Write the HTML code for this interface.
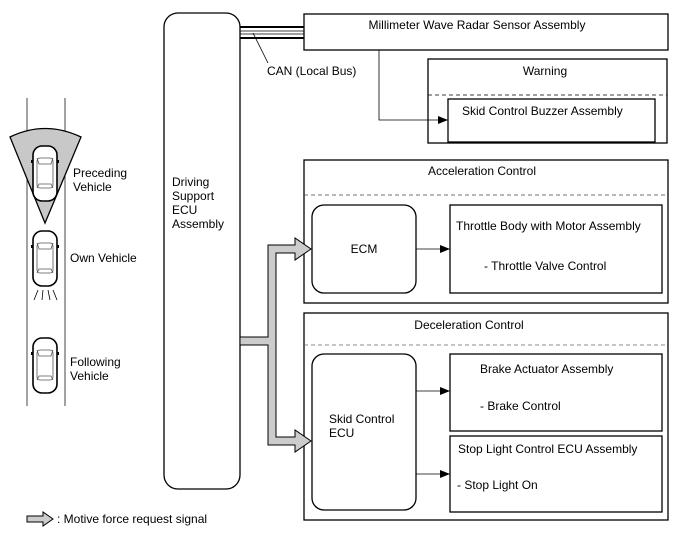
<!DOCTYPE html>
<html><head><meta charset="utf-8"><style>
html,body{margin:0;padding:0;background:#fff;}
svg{display:block;font-family:"Liberation Sans",Arial,sans-serif;font-size:12px;}
</style></head><body>
<svg width="688" height="560" viewBox="0 0 688 560" xmlns="http://www.w3.org/2000/svg">
<defs>
<marker id="ah" markerWidth="10" markerHeight="8" refX="10" refY="4" orient="auto" markerUnits="userSpaceOnUse"><path d="M0,0 L10,4 L0,8 z" fill="#000"/></marker>
<g id="car">
<rect x="-12" y="0" width="24" height="55" rx="9" fill="#fff" stroke="#000" stroke-width="1.6"/>
<rect x="-8" y="12" width="16" height="30" rx="3" fill="#fff" stroke="#555" stroke-width="0.8"/>
<path d="M-8,12 L-6,18 L6,18 L8,12 M-8,42 L-6,38 L6,38 L8,42" fill="none" stroke="#555" stroke-width="0.8"/>
<rect x="-14" y="14" width="2" height="3" fill="#000"/><rect x="12" y="14" width="2" height="3" fill="#000"/>
</g>
</defs>
<line x1="27" y1="98" x2="27" y2="406" stroke="#444" stroke-width="1"/>
<line x1="65" y1="98" x2="65" y2="406" stroke="#444" stroke-width="1"/>
<path d="M45,223 L10,137 Q45,120 81,137 Z" fill="#c8c8c8" stroke="#000" stroke-width="1.3"/>
<use href="#car" x="45" y="146"/>
<use href="#car" x="45" y="231"/>
<path d="M38,290 L34,300 M43,290 L42,300 M48,290 L50,300 M53,290 L57,300" stroke="#000" stroke-width="0.8"/>
<use href="#car" x="45" y="338"/>
<text x="73" y="177">Preceding</text><text x="73" y="191">Vehicle</text>
<text x="70" y="262">Own Vehicle</text>
<text x="70" y="366">Following</text><text x="70" y="380">Vehicle</text>
<rect x="164" y="13" width="76" height="476" rx="14" fill="#fff" stroke="#000" stroke-width="1.3"/>
<text x="172" y="186">Driving</text><text x="172" y="200">Support</text><text x="172" y="214">ECU</text><text x="172" y="228">Assembly</text>
<line x1="240" y1="27" x2="304" y2="27" stroke="#000" stroke-width="2"/>
<line x1="240" y1="31" x2="304" y2="31" stroke="#000" stroke-width="0.8"/>
<line x1="240" y1="34" x2="304" y2="34" stroke="#000" stroke-width="0.8"/>
<line x1="240" y1="38" x2="304" y2="38" stroke="#000" stroke-width="2"/>
<line x1="253" y1="33" x2="268" y2="63" stroke="#000" stroke-width="0.8"/>
<text x="267" y="75">CAN (Local Bus)</text>
<rect x="304" y="14" width="364" height="36" fill="#fff" stroke="#000" stroke-width="1.3"/>
<text x="477" y="29" text-anchor="middle">Millimeter Wave Radar Sensor Assembly</text>
<rect x="428" y="59" width="239" height="84" fill="#fff" stroke="#000" stroke-width="1.3"/>
<text x="545" y="75" text-anchor="middle">Warning</text>
<line x1="428" y1="95" x2="667" y2="95" stroke="#000" stroke-width="0.8" stroke-dasharray="4,3"/>
<rect x="448" y="99" width="207" height="43" fill="#fff" stroke="#000" stroke-width="1.3"/>
<text x="462" y="115">Skid Control Buzzer Assembly</text>
<polyline points="379,50 379,120 448,120" fill="none" stroke="#000" stroke-width="0.8" marker-end="url(#ah)"/>
<rect x="304" y="160" width="364" height="143" fill="#fff" stroke="#000" stroke-width="1.3"/>
<text x="482" y="175" text-anchor="middle">Acceleration Control</text>
<line x1="304" y1="195" x2="668" y2="195" stroke="#444" stroke-width="0.8" stroke-dasharray="4,3"/>
<rect x="312" y="205" width="104" height="88" rx="12" fill="#fff" stroke="#000" stroke-width="1.3"/>
<text x="364" y="253" text-anchor="middle">ECM</text>
<rect x="450" y="205" width="212" height="88" fill="#fff" stroke="#000" stroke-width="1.3"/>
<text x="456" y="230">Throttle Body with Motor Assembly</text>
<text x="484" y="270">- Throttle Valve Control</text>
<line x1="416" y1="249" x2="450" y2="249" stroke="#000" stroke-width="0.8" marker-end="url(#ah)"/>
<rect x="304" y="313" width="364" height="207" fill="#fff" stroke="#000" stroke-width="1.3"/>
<text x="469" y="329" text-anchor="middle">Deceleration Control</text>
<line x1="304" y1="345" x2="668" y2="345" stroke="#666" stroke-width="0.8" stroke-dasharray="4,3"/>
<rect x="312" y="354" width="104" height="156" rx="12" fill="#fff" stroke="#000" stroke-width="1.3"/>
<text x="329" y="423">Skid Control</text><text x="329" y="437">ECU</text>
<rect x="450" y="354" width="212" height="77" fill="#fff" stroke="#000" stroke-width="1.3"/>
<text x="480" y="373">Brake Actuator Assembly</text>
<text x="480" y="410">- Brake Control</text>
<rect x="450" y="436" width="212" height="76" fill="#fff" stroke="#000" stroke-width="1.3"/>
<text x="458" y="453">Stop Light Control ECU Assembly</text>
<text x="457" y="489">- Stop Light On</text>
<line x1="416" y1="391" x2="450" y2="391" stroke="#000" stroke-width="0.8" marker-end="url(#ah)"/>
<line x1="416" y1="474" x2="450" y2="474" stroke="#000" stroke-width="0.8" marker-end="url(#ah)"/>
<path d="M240,337 L268,337 L268,245 L295,245 L295,238 L311,249 L295,260 L295,253 L276,253 L276,437 L295,437 L295,430 L311,441 L295,452 L295,445 L268,445 L268,345 L240,345 Z" fill="#cccccc" stroke="#000" stroke-width="1"/>
<path d="M27,516 L43,516 L43,512 L53,519 L43,526 L43,522 L27,522 Z" fill="#cccccc" stroke="#000" stroke-width="1"/>
<text x="57" y="523">: Motive force request signal</text>
</svg>
</body></html>
